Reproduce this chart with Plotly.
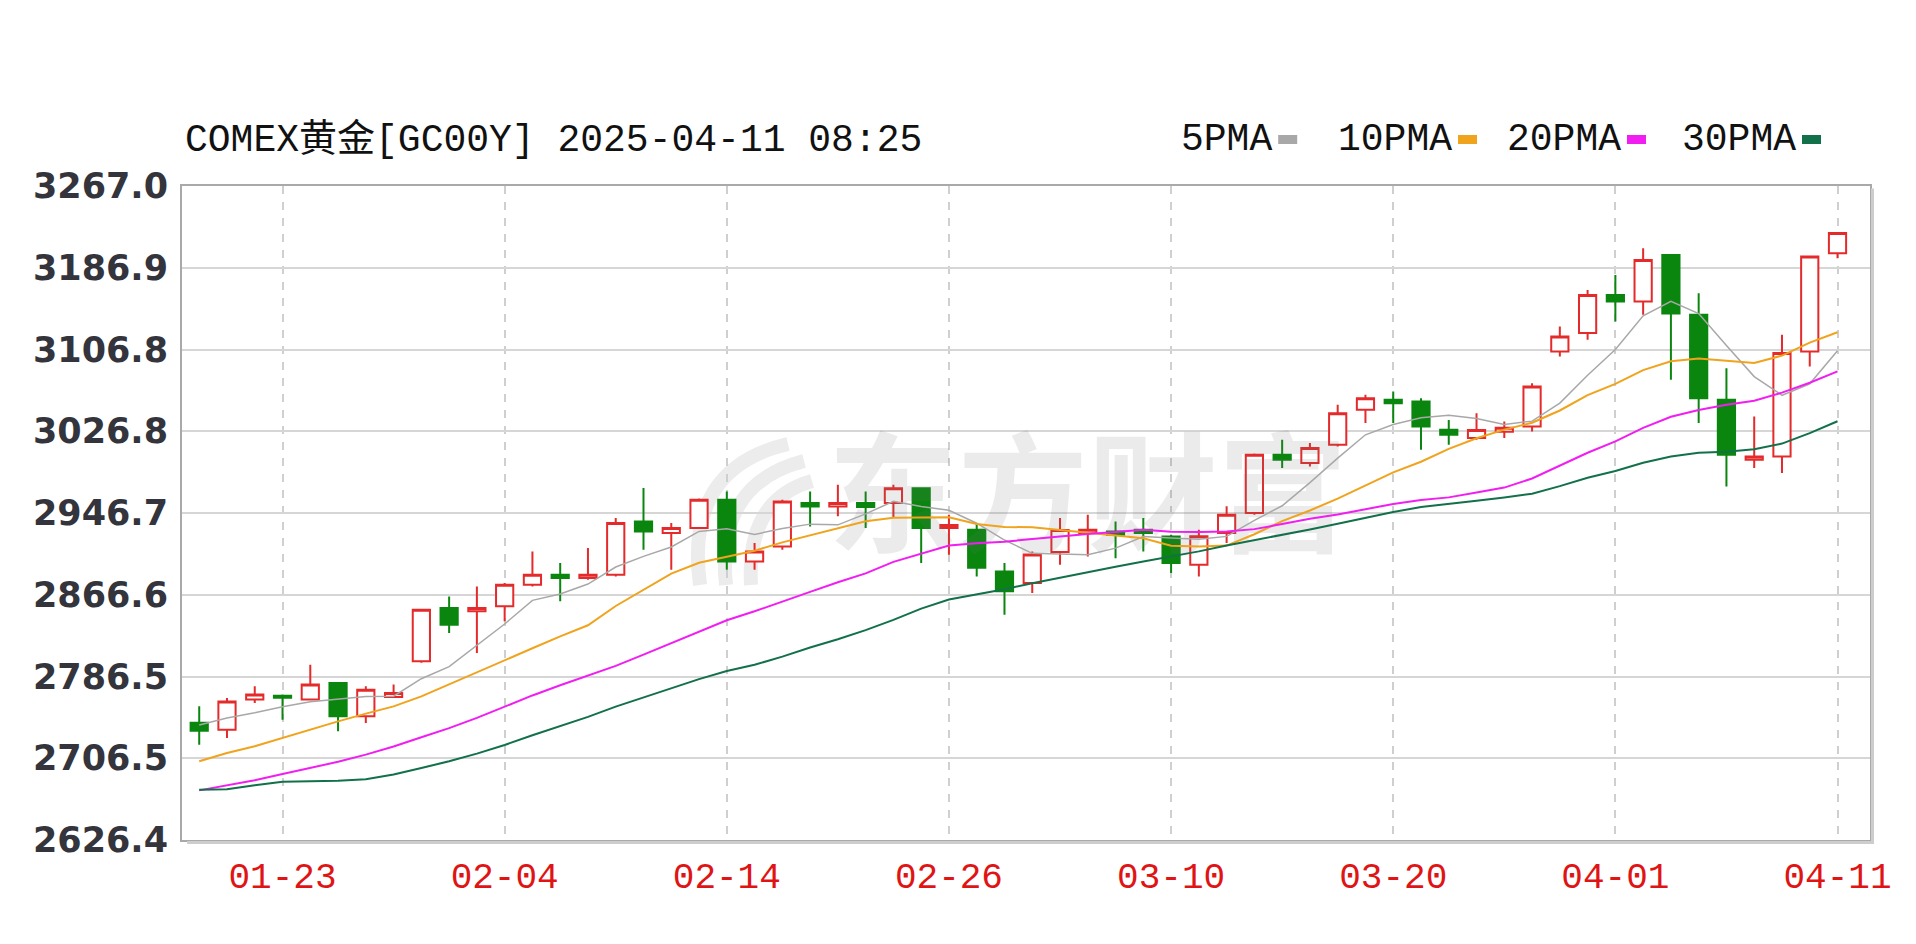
import plotly.graph_objects as go

# ---- trading days shown on the chart ----
dates = [
    "01-20", "01-21", "01-22", "01-23", "01-24", "01-27", "01-28", "01-29", "01-30", "01-31",
    "02-03", "02-04", "02-05", "02-06", "02-07", "02-10", "02-11", "02-12", "02-13", "02-14",
    "02-17", "02-18", "02-19", "02-20", "02-21", "02-24", "02-25", "02-26", "02-27", "02-28",
    "03-03", "03-04", "03-05", "03-06", "03-07", "03-10", "03-11", "03-12", "03-13", "03-14",
    "03-17", "03-18", "03-19", "03-20", "03-21", "03-24", "03-25", "03-26", "03-27", "03-28",
    "03-31", "04-01", "04-02", "04-03", "04-04", "04-07", "04-08", "04-09", "04-10", "04-11",
]

# ---- daily OHLC ----
opens = [
    2741.3, 2734.5, 2763.9, 2767.8, 2763.9, 2780.2, 2747.5, 2766.5, 2801.4, 2853.6,
    2850.4, 2855.3, 2876.5, 2886.3, 2883.1, 2886.2, 2938.4, 2927.0, 2931.9, 2959.7,
    2899.3, 2913.9, 2956.4, 2953.0, 2956.4, 2956.4, 2971.0, 2932.0, 2930.3, 2889.5,
    2878.1, 2908.5, 2927.0, 2928.6, 2930.3, 2923.8, 2896.1, 2927.0, 2946.6, 3003.7,
    2995.6, 3013.5, 3047.8, 3057.6, 3055.9, 3028.2, 3020.1, 3026.2, 3031.4, 3104.9,
    3122.9, 3160.3, 3153.8, 3199.5, 3140.8, 3057.6, 2998.8, 3002.1, 3104.9, 3201.2,
]
highs = [
    2757.3, 2765.5, 2776.9, 2768.8, 2798.1, 2781.0, 2776.9, 2778.6, 2853.0, 2865.0,
    2874.8, 2878.2, 2909.1, 2897.7, 2912.4, 2941.8, 2971.1, 2936.8, 2961.0, 2967.8,
    2917.3, 2959.7, 2967.8, 2974.3, 2967.8, 2974.3, 2972.0, 2945.0, 2936.8, 2897.7,
    2909.1, 2941.8, 2945.0, 2938.4, 2941.8, 2925.4, 2930.3, 2953.2, 3005.0, 3018.4,
    3015.2, 3052.7, 3062.5, 3065.7, 3059.2, 3037.9, 3044.5, 3036.3, 3073.9, 3129.3,
    3165.2, 3179.9, 3206.0, 3200.5, 3161.9, 3088.6, 3041.2, 3121.2, 3199.0, 3222.0,
]
lows = [
    2719.8, 2726.4, 2760.6, 2744.3, 2763.0, 2732.8, 2741.1, 2765.5, 2800.0, 2829.2,
    2809.6, 2840.6, 2874.8, 2860.2, 2881.4, 2884.6, 2910.7, 2891.1, 2931.0, 2891.1,
    2891.1, 2910.7, 2933.5, 2943.4, 2931.9, 2941.8, 2897.7, 2905.9, 2884.6, 2847.1,
    2868.3, 2896.1, 2904.1, 2902.4, 2909.1, 2887.9, 2884.6, 2917.3, 2945.0, 2990.7,
    2992.3, 3011.9, 3034.8, 3034.8, 3008.6, 3013.5, 3018.4, 3020.1, 3026.5, 3100.0,
    3116.3, 3134.2, 3140.8, 3077.2, 3034.8, 2972.7, 2990.7, 2985.9, 3090.2, 3196.3,
]
closes = [
    2733.5, 2762.0, 2769.0, 2765.8, 2778.6, 2747.5, 2773.6, 2770.4, 2852.0, 2837.3,
    2853.6, 2876.5, 2886.3, 2883.0, 2886.3, 2937.0, 2928.6, 2932.0, 2959.7, 2899.3,
    2909.0, 2958.0, 2953.0, 2956.4, 2952.5, 2971.0, 2932.0, 2935.0, 2893.0, 2870.0,
    2906.0, 2930.0, 2930.3, 2925.4, 2927.0, 2897.7, 2924.0, 2945.0, 3003.7, 2998.8,
    3010.3, 3044.5, 3059.2, 3054.3, 3031.4, 3023.3, 3028.0, 3030.1, 3070.6, 3119.5,
    3160.3, 3153.8, 3194.6, 3142.0, 3059.2, 3003.7, 3002.0, 3103.3, 3198.0, 3221.0,
]

# ---- moving averages ----
ma5 = [
    2739.0, 2746.0, 2751.0, 2757.0, 2761.8, 2764.6, 2766.9, 2767.2, 2784.4, 2796.2,
    2817.4, 2838.0, 2861.1, 2867.3, 2877.1, 2893.8, 2904.2, 2913.4, 2928.7, 2931.3,
    2925.7, 2931.6, 2935.8, 2935.1, 2945.8, 2958.2, 2953.0, 2949.4, 2936.7, 2920.2,
    2907.2, 2906.8, 2905.9, 2912.3, 2923.7, 2922.1, 2920.9, 2923.8, 2939.5, 2953.8,
    2976.4, 3000.5, 3023.3, 3033.4, 3039.9, 3042.5, 3039.2, 3033.4, 3036.7, 3054.3,
    3081.7, 3106.9, 3139.8, 3154.0, 3142.0, 3110.7, 3080.3, 3062.0, 3073.2, 3105.6,
]
ma10 = [
    2703.5, 2711.7, 2718.2, 2726.4, 2734.5, 2742.6, 2750.2, 2757.3, 2767.1, 2779.0,
    2791.0, 2802.4, 2814.2, 2825.9, 2836.7, 2855.6, 2871.1, 2887.3, 2898.0, 2904.2,
    2909.8, 2917.9, 2924.6, 2931.9, 2938.6, 2942.0, 2942.3, 2942.6, 2935.9, 2933.0,
    2932.7, 2929.9, 2927.6, 2924.5, 2922.0, 2914.6, 2913.8, 2914.8, 2925.9, 2938.8,
    2949.2, 2960.7, 2973.6, 2986.5, 2996.9, 3009.5, 3019.9, 3028.4, 3035.1, 3047.1,
    3062.1, 3073.1, 3086.6, 3095.4, 3098.1, 3096.2, 3093.6, 3100.9, 3113.6, 3123.8,
]
ma20 = [
    2675.0, 2680.0, 2685.0, 2691.0, 2697.0, 2703.0, 2710.0, 2718.0, 2727.0, 2736.0,
    2746.0, 2757.0, 2768.0, 2778.0, 2787.5, 2797.0, 2808.0, 2819.0, 2830.5, 2841.6,
    2850.4, 2860.2, 2869.4, 2878.9, 2887.6, 2898.8, 2906.7, 2914.9, 2917.0, 2918.6,
    2921.2, 2923.9, 2926.1, 2928.2, 2930.3, 2928.3, 2928.1, 2928.7, 2930.9, 2935.9,
    2941.0, 2945.3, 2950.6, 2955.5, 2959.4, 2962.0, 2966.8, 2971.6, 2980.5, 2993.0,
    3005.7, 3016.9, 3030.1, 3040.9, 3047.5, 3052.8, 3056.7, 3064.6, 3074.3, 3085.5,
]
ma30 = [
    2675.5, 2676.0, 2680.0, 2683.5, 2684.0, 2684.5, 2686.0, 2690.5, 2697.0, 2703.5,
    2711.0, 2719.5, 2729.0, 2738.0, 2747.0, 2757.0, 2766.0, 2775.0, 2784.0, 2792.0,
    2798.0, 2806.0, 2815.0, 2823.0, 2832.0, 2842.0, 2853.0, 2862.0, 2867.0, 2872.1,
    2877.8, 2883.4, 2888.8, 2894.1, 2899.1, 2904.1, 2909.1, 2914.9, 2920.0, 2925.3,
    2930.6, 2936.2, 2941.9, 2947.6, 2952.5, 2955.3, 2958.7, 2961.9, 2965.6, 2973.0,
    2981.3, 2987.9, 2995.9, 3002.1, 3005.7, 3006.8, 3009.1, 3014.7, 3024.9, 3036.6,
]

# ---- axis ticks / labels ----
tick_dates = ["01-23", "02-04", "02-14", "02-26", "03-10", "03-20", "04-01", "04-11"]
price_ticks = [2626.4, 2706.5, 2786.5, 2866.6, 2946.7, 3026.8, 3106.8, 3186.9, 3267.0]
title_text = "COMEX黄金[GC00Y] 2025-04-11 08:25"
ma_names = ["5PMA", "10PMA", "20PMA", "30PMA"]
ma_series = [ma5, ma10, ma20, ma30]
ma_colors = ["#a8a8a8", "#f0a31c", "#f01ef0", "#12704a"]
ma_widths = [1.5, 2, 2, 2]

RED = "#e42a2a"
GREEN = "#0a860f"
MONO = "Liberation Mono, DejaVu Sans Mono, Noto Sans CJK SC, monospace"

# ---- page geometry (pixels) ----
W, H = 1916, 944
PL, PR, PT, PB = 182, 1870, 186, 840


def px_x(px):
    return (px - PL) / (PR - PL)


def px_y(py):
    return (PB - py) / (PB - PT)


fig = go.Figure()

# faint, translucent brand watermark so candles stay visible through it
fig.add_trace(go.Scatter(
    x=[dates[32]], y=[2950], mode="text", text=["东方财富"],
    textfont=dict(family="Noto Sans CJK SC", size=130, color="rgba(110,110,110,0.14)",
                  weight="bold"),
    textposition="middle center", hoverinfo="skip", showlegend=False,
))

fig.add_trace(go.Candlestick(
    x=dates, open=opens, high=highs, low=lows, close=closes,
    increasing=dict(line=dict(color=RED, width=2), fillcolor="white"),
    decreasing=dict(line=dict(color=GREEN, width=2), fillcolor=GREEN),
    whiskerwidth=0, hoverinfo="skip", showlegend=False,
))

for name, vals, color, width in zip(ma_names, ma_series, ma_colors, ma_widths):
    fig.add_trace(go.Scatter(
        x=dates, y=vals, mode="lines", name=name,
        line=dict(color=color, width=width), hoverinfo="skip", showlegend=False,
    ))

shapes = []
# logo blades of the watermark
for (x0, y0, cx, cy, x1, y1) in [
    (700, 585, 684, 468, 788, 444),
    (726, 585, 715, 484, 804, 461),
    (751, 585, 746, 500, 812, 481),
]:
    path = "M {:.4f},{:.4f} Q {:.4f},{:.4f} {:.4f},{:.4f}".format(
        px_x(x0), px_y(y0), px_x(cx), px_y(cy), px_x(x1), px_y(y1))
    shapes.append(dict(type="path", path=path, xref="paper", yref="paper",
                       line=dict(color="#ececec", width=14), layer="between"))

# drop shadow along the right and bottom frame edges
shapes.append(dict(type="rect", xref="paper", yref="paper", xsizemode="pixel", xanchor=1,
                   x0=1, x1=4, y0=-0.006, y1=0.996, fillcolor="#cdcdcd",
                   line=dict(width=0), layer="above"))
shapes.append(dict(type="rect", xref="paper", yref="paper", ysizemode="pixel", yanchor=0,
                   y0=-1, y1=-4, x0=0.003, x1=1.0 + 4 / (PR - PL), fillcolor="#cdcdcd",
                   line=dict(width=0), layer="above"))

annotations = [dict(
    text=title_text, xref="paper", yref="paper", x=px_x(183), y=px_y(140),
    xanchor="left", yanchor="middle", showarrow=False,
    font=dict(family=MONO, size=38, color="#111111"),
)]

# legend: label followed by a small colour swatch
FS = 38
char_w = 0.6 * FS
legend_x = [1179, 1336, 1505, 1680]
for name, color, lx in zip(ma_names, ma_colors, legend_x):
    annotations.append(dict(
        text=name, xref="paper", yref="paper", x=px_x(lx), y=px_y(140),
        xanchor="left", yanchor="middle", showarrow=False,
        font=dict(family=MONO, size=FS, color="#111111"),
    ))
    sx = lx + len(name) * char_w + 8
    shapes.append(dict(type="rect", xref="paper", yref="paper",
                       x0=px_x(sx), x1=px_x(sx + 19), y0=px_y(144), y1=px_y(135),
                       fillcolor=color, line=dict(width=0), layer="above"))

fig.update_layout(
    width=W, height=H, autosize=False,
    margin=dict(l=PL, r=W - PR, t=PT, b=H - PB, pad=0),
    paper_bgcolor="white", plot_bgcolor="white",
    showlegend=False, boxgap=0.38, boxgroupgap=0,
    shapes=shapes, annotations=annotations,
    xaxis=dict(
        type="category", categoryorder="array", categoryarray=dates,
        range=[-0.62, 60.17],
        tickmode="array", tickvals=tick_dates, ticktext=tick_dates,
        showgrid=True, gridcolor="#cfcfcf", gridwidth=2, griddash="8px,8px",
        showline=True, mirror=True, linecolor="#a9a9a9", linewidth=2,
        zeroline=False, ticks="", ticklabelstandoff=3,
        tickfont=dict(family=MONO, size=36, color="#e01414"),
        rangeslider=dict(visible=False), fixedrange=True,
    ),
    yaxis=dict(
        range=[2626.4, 3267.0],
        tickmode="array", tickvals=price_ticks,
        ticktext=["{:.1f}".format(v) for v in price_ticks],
        showgrid=True, gridcolor="#d6d6d6", gridwidth=2,
        showline=True, mirror=True, linecolor="#a9a9a9", linewidth=2,
        zeroline=False, ticks="", ticklabelstandoff=5,
        tickfont=dict(family="DejaVu Sans", size=35, color="#33343c", weight="bold"),
        fixedrange=True,
    ),
)

fig.write_html("out.html", config={"displayModeBar": False})
